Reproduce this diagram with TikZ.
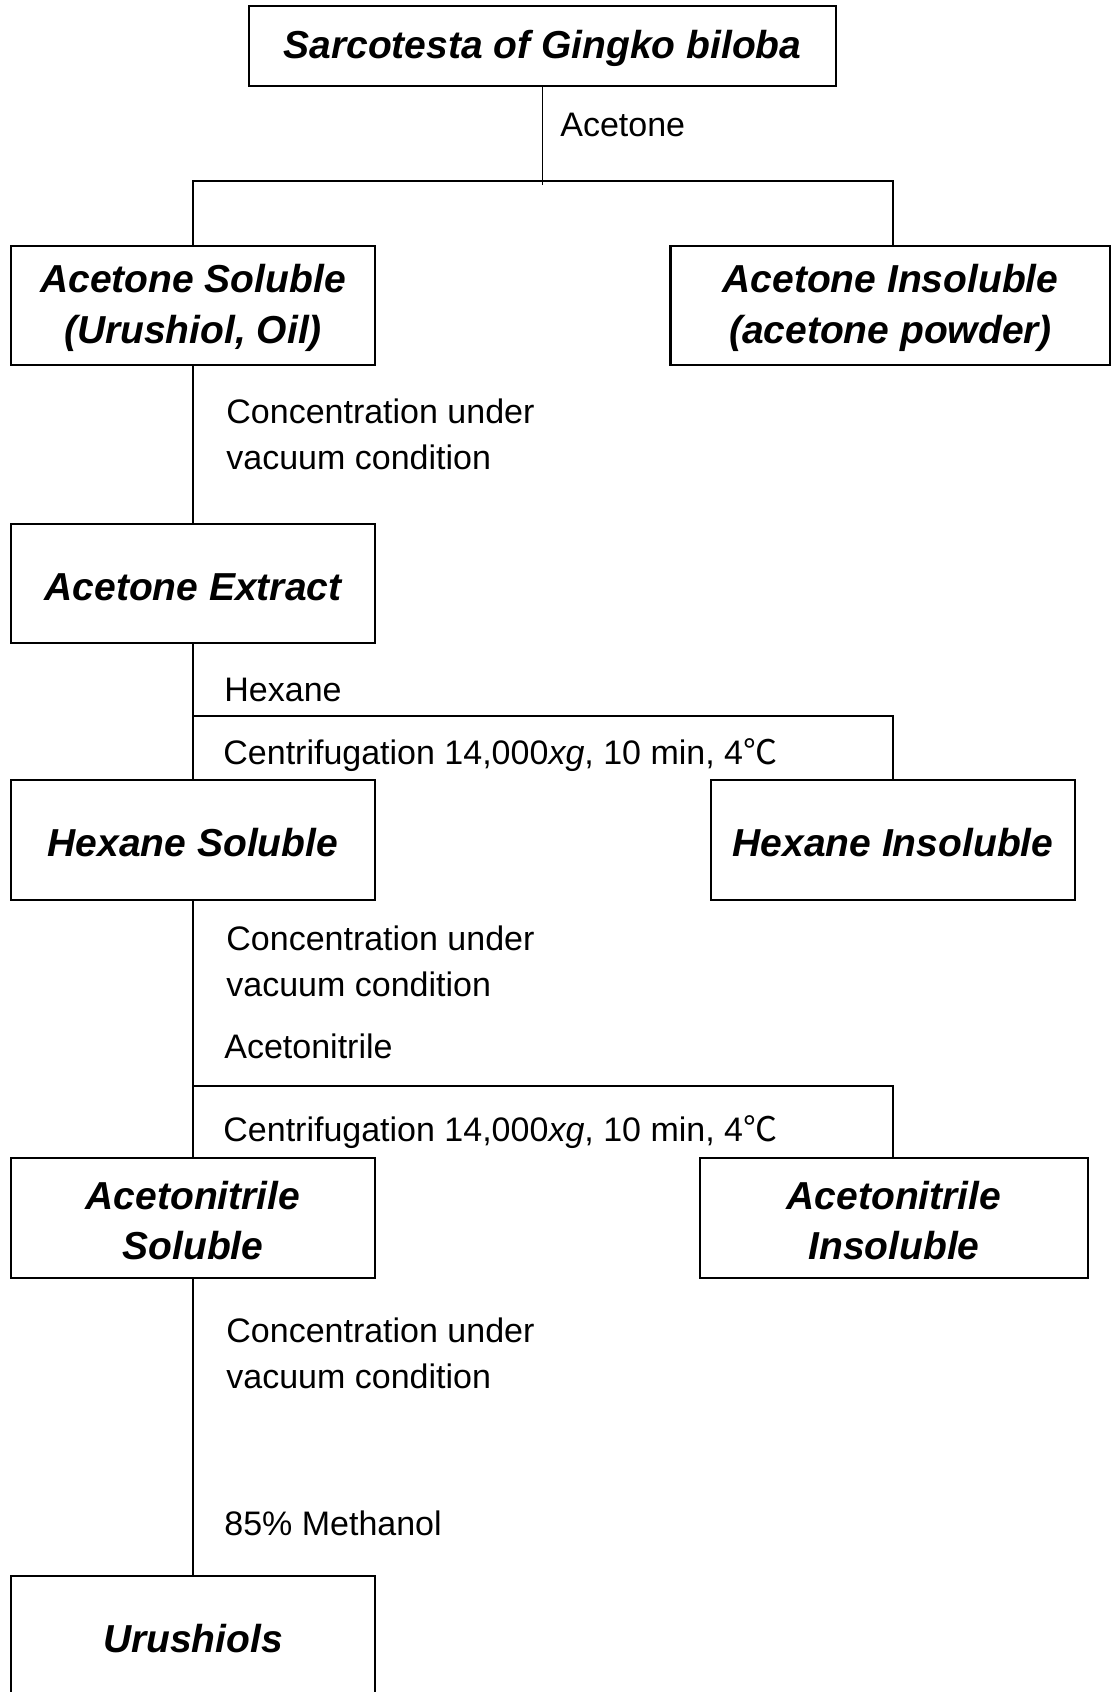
\documentclass[tikz,border=0pt]{standalone}
\usepackage{fontspec}
\setmainfont{Liberation Sans}
\newfontfamily\cjkfont{Noto Sans CJK KR}
\newcommand{\bst}{\rule{0pt}{16.8pt}}
\begin{document}
\begin{tikzpicture}[x=0.5pt,y=-0.5pt,
  box/.style={draw, line width=1.3pt, inner sep=0pt, align=center,
    minimum width=182pt, minimum height=59.5pt,
    font=\fontsize{19.5}{25.3}\selectfont\bfseries\itshape},
  lbl/.style={anchor=base west, inner sep=0pt, align=left,
    font=\fontsize{17}{22.6}\selectfont},
  conn/.style={line width=0.7pt}]
\useasboundingbox (0,0) rectangle (1111,1692);
\clip (0,0) rectangle (1111,1692);
% boxes
\node[box, minimum width=293.5pt, minimum height=40pt] (top) at (542.5,46) {\bst Sarcotesta of Gingko biloba};
\node[box] (AS) at (193,305.5) {\bst Acetone Soluble\\(Urushiol, Oil)};
\node[box, minimum width=220pt] (AI) at (890.5,305.5) {\bst Acetone Insoluble\\(acetone powder)};
\node[box] (AE) at (193,583.5) {\bst Acetone Extract};
\node[box, minimum height=60pt] (HS) at (193,840) {\bst Hexane Soluble};
\node[box, minimum height=60pt] (HI) at (893,840) {\bst Hexane Insoluble};
\node[box, minimum height=60pt] (ANS) at (193,1218) {\bst Acetonitrile\\Soluble};
\node[box, minimum width=194pt, minimum height=60pt] (ANI) at (894,1218) {\bst Acetonitrile\\Insoluble};
\node[box, minimum height=60pt] (U) at (193,1636) {\bst Urushiols};
% junction coordinates
\coordinate (h1L) at (193,181);
\coordinate (h1R) at (893,181);
\coordinate (h2R) at (893,716);
\coordinate (h3R) at (893,1086);
% connectors
\draw[conn] (top.south) -- ([yshift=-2pt]top.south |- h1L);
\draw[conn] (AS.north) -- (h1L) -- (h1R) -- (h1R |- AI.north);
\draw[conn] (AS.south) -- (AE.north);
\draw[conn] (AE.south) -- (HS.north);
\draw[conn] (AE.south |- h2R) -- (h2R) -- (HI.north);
\draw[conn] (HS.south) -- (ANS.north);
\draw[conn] (HS.south |- h3R) -- (h3R) -- (h3R |- ANI.north);
\draw[conn] (ANS.south) -- (U.north);
% labels
\node[lbl] (l1) at (560,136) {Acetone};
\node[lbl] (l2) at (226,469) {Concentration under\\vacuum condition};
\node[lbl] (l3) at (224,701) {Hexane};
\node[lbl] (l4) at (223,764) {Centrifugation 14,000\textit{xg}, 10 min, 4{\cjkfont ℃}};
\node[lbl] (l5) at (226,996) {Concentration under\\vacuum condition};
\node[lbl] (l6) at (224,1058) {Acetonitrile};
\node[lbl] (l7) at (223,1141) {Centrifugation 14,000\textit{xg}, 10 min, 4{\cjkfont ℃}};
\node[lbl] (l8) at (226,1388) {Concentration under\\vacuum condition};
\node[lbl] (l9) at (224,1535) {85\% Methanol};
\end{tikzpicture}
\end{document}
